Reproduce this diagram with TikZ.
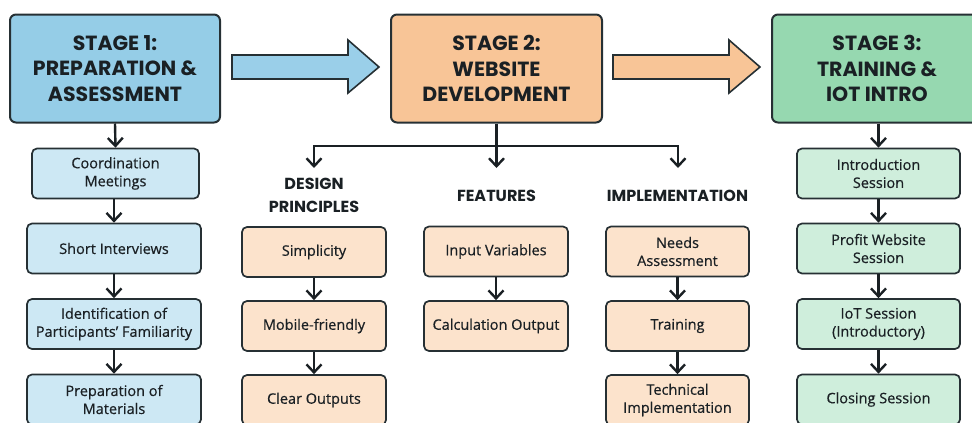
\documentclass[tikz,border=0pt]{standalone}
\usepackage{fontspec}
\setmainfont{Open Sans}[FakeBold=0.5]
\newfontfamily\headfont{Poppins}
\usetikzlibrary{arrows.meta,calc}
\definecolor{ink}{HTML}{1A2024}
\definecolor{edge}{HTML}{263034}
\definecolor{bluehead}{HTML}{95CDE7}
\definecolor{bluesub}{HTML}{CDE8F4}
\definecolor{peachhead}{HTML}{F8C597}
\definecolor{peachsub}{HTML}{FCE3CC}
\definecolor{greenhead}{HTML}{96D8B0}
\definecolor{greensub}{HTML}{CFEEDC}
\definecolor{bluearrow}{HTML}{9ACFE9}
\definecolor{peacharrow}{HTML}{F8C597}
\tikzset{
  stagebox/.style={draw=edge, line width=2pt, rounded corners=6pt, minimum width=210pt, minimum height=108pt, align=center, text=ink, font=\headfont\bfseries\fontsize{20.5}{25.5}\selectfont, inner sep=0pt},
  subbox/.style={draw=edge, line width=1.7pt, rounded corners=5pt, minimum height=50pt, align=center, text=ink, font=\fontsize{14.5}{18}\selectfont, inner sep=0pt},
  colhead/.style={align=center, text=ink, font=\headfont\bfseries\fontsize{16}{23}\selectfont, inner sep=0pt},
  arr/.style={draw=ink, line width=2.4pt, -{Straight Barb[length=8pt,width=15pt,line width=2.4pt]}},
  arrboth/.style={draw=ink, line width=2.4pt, line join=miter, {Straight Barb[length=8pt,width=15pt,line width=2.4pt]}-{Straight Barb[length=8pt,width=15pt,line width=2.4pt]}},
  bigarrow/.style={draw=edge, line width=1.6pt, line join=miter}
}
\begin{document}
\begin{tikzpicture}[x=1pt,y=-1pt]
\useasboundingbox (0,0) rectangle (972,423);
% stages
\node[stagebox, fill=bluehead] (s1) at (115,68.5) {STAGE 1:\\PREPARATION \&\\ASSESSMENT};
\node[stagebox, fill=peachhead, minimum width=211pt] (s2) at (496.5,68.5) {STAGE 2:\\WEBSITE\\DEVELOPMENT};
\node[stagebox, fill=greenhead] (s3) at (877,68.5) {STAGE 3:\\TRAINING \&\\IOT INTRO};
% big arrows
\coordinate (a1s) at (232,67);
\coordinate (a1e) at (379,67);
\coordinate (a2s) at (613,67);
\coordinate (a2e) at (760,67);
\draw[bigarrow, fill=bluearrow] ($(a1s)+(0,-12)$) -- ($(a1e)+(-31,-12)$) -- ($(a1e)+(-31,-27)$) -- (a1e) -- ($(a1e)+(-31,26)$) -- ($(a1e)+(-31,12)$) -- ($(a1s)+(0,12)$) -- cycle;
\draw[bigarrow, fill=peacharrow] ($(a2s)+(0,-12)$) -- ($(a2e)+(-31,-12)$) -- ($(a2e)+(-31,-27)$) -- (a2e) -- ($(a2e)+(-31,26)$) -- ($(a2e)+(-31,12)$) -- ($(a2s)+(0,12)$) -- cycle;
% stage 1 column
\node[subbox, fill=bluesub, minimum width=167pt] (c1) at (115.5,173.5) {Coordination\\Meetings};
\node[subbox, fill=bluesub, minimum width=174pt] (c2) at (114,248.5) {Short Interviews};
\node[subbox, fill=bluesub, minimum width=174pt] (c3) at (114,324) {Identification of\\Participants\symbol{"0027} Familiarity};
\node[subbox, fill=bluesub, minimum width=174pt] (c4) at (114,399.5) {Preparation of\\Materials};
\draw[arr] (s1.south) -- (c1.north);
\draw[arr] (c2.north |- c1.south) -- (c2.north);
\draw[arr] (c2.south) -- (c3.north);
\draw[arr] (c3.south) -- (c4.north);
% stage 2 branches
\coordinate (jl) at (314,146);
\coordinate (jc) at (496.5,146);
\coordinate (jr) at (678,146);
\coordinate (ta) at (314,168);
\coordinate (tb) at (496.5,168);
\coordinate (tc) at (678,168);
\draw[arrboth] (ta) -- (jl) -- (jr) -- (tc);
\draw[arr] (s2.south) -- (tb);
\node[colhead] (h1) at (314,195) {DESIGN\\PRINCIPLES};
\node[colhead] (h2) at (496.5,196) {FEATURES};
\node[colhead] (h3) at (677.5,196) {IMPLEMENTATION};
% design principles
\node[subbox, fill=peachsub, minimum width=144pt] (d1) at (314,252) {Simplicity};
\node[subbox, fill=peachsub, minimum width=144pt] (d2) at (314,326) {Mobile-friendly};
\node[subbox, fill=peachsub, minimum width=144pt] (d3) at (314,400) {Clear Outputs};
\draw[arr] (d1.south) -- (d2.north);
\draw[arr] (d2.south) -- (d3.north);
% features
\node[subbox, fill=peachsub, minimum width=144pt] (f1) at (496,251.5) {Input Variables};
\node[subbox, fill=peachsub, minimum width=144pt] (f2) at (496,326) {Calculation Output};
\draw[arr] (f1.south) -- (f2.north);
% implementation
\node[subbox, fill=peachsub, minimum width=143pt] (i1) at (677.5,251.5) {Needs\\Assessment};
\node[subbox, fill=peachsub, minimum width=143pt] (i2) at (677.5,326) {Training};
\node[subbox, fill=peachsub, minimum width=143pt] (i3) at (677.5,400) {Technical\\Implementation};
\draw[arr] (i1.south) -- (i2.north);
\draw[arr] (i2.south) -- (i3.north);
% stage 3 column
\node[subbox, fill=greensub, minimum width=163pt] (g1) at (878.5,173.5) {Introduction\\Session};
\node[subbox, fill=greensub, minimum width=163pt] (g2) at (878.5,248.5) {Profit Website\\Session};
\node[subbox, fill=greensub, minimum width=163pt] (g3) at (878.5,324) {IoT Session\\(Introductory)};
\node[subbox, fill=greensub, minimum width=163pt] (g4) at (878.5,399.5) {Closing Session};
\draw[arr] (g1.north |- s3.south) -- (g1.north);
\draw[arr] (g1.south) -- (g2.north);
\draw[arr] (g2.south) -- (g3.north);
\draw[arr] (g3.south) -- (g4.north);
\end{tikzpicture}
\end{document}
